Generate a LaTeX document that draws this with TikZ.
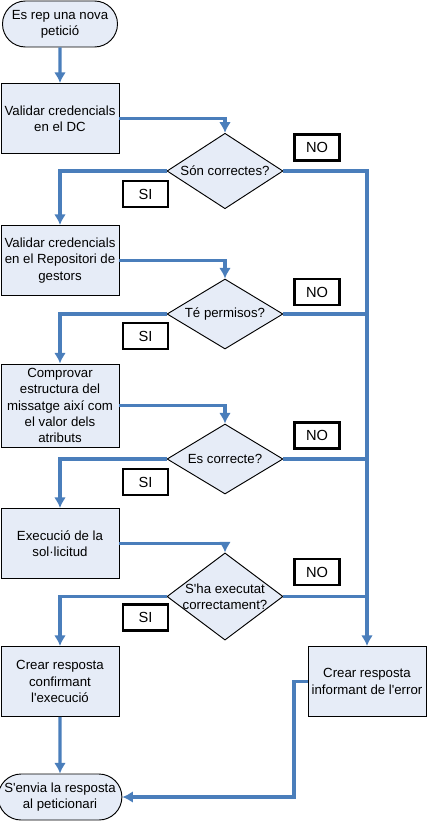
\documentclass[tikz,border=0pt]{standalone}
\usepackage{fontspec}
\setmainfont{Liberation Sans}
\usetikzlibrary{shapes.geometric,shapes.misc,arrows.meta}
\definecolor{flowblue}{RGB}{74,126,187}
\definecolor{boxfill}{RGB}{230,236,247}
\begin{document}
\begin{tikzpicture}[x=0.03cm,y=-0.03cm]
    \tikzset{txt/.style={font=\fontsize{11.3pt}{13.9pt}\selectfont, align=center},
      process/.style={txt, draw, fill=boxfill, line width=0.8pt, minimum width=3.54cm, minimum height=2.1cm, inner sep=1pt},
      terminal/.style={txt, draw, fill=boxfill, rounded rectangle, line width=0.8pt, minimum width=3.52cm, minimum height=1.38cm, inner sep=1pt},
      decision/.style={txt, draw, fill=boxfill, diamond, line width=0.8pt, minimum width=3.48cm, minimum height=2.1cm, inner sep=-5pt},
      answer/.style={draw, fill=white, line width=2.4pt, minimum width=1.35cm, minimum height=0.78cm, inner sep=0pt, font=\fontsize{12.5pt}{14pt}\selectfont},
      flow/.style={draw=flowblue, line width=2.6pt},
      tip/.style={-{Latex[length=9pt,width=10pt]}}}
    \useasboundingbox (0,0) rectangle (427,821);

    \node[terminal] at (60,24) (start) {Es rep una nova\\petició};
    \node[process] at (60,118.5) (cred_dc) {Validar credencials\\en el DC};
    \node[decision] at (225,171) (ok_dc) {Són correctes?};
    \node[process] at (60,260.5) (cred_rep) {Validar credencials\\en el Repositori de\\gestors};
    \node[decision] at (225,314) (ok_perm) {Té permisos?};
    \node[process, minimum height=2.49cm] at (60,405.5) (check) {Comprovar\\estructura del\\missatge així com\\el valor dels\\atributs};
    \node[decision] at (225,459) (ok_check) {Es correcte?};
    \node[process] at (60,543.5) (exec) {Execució de la\\sol·licitud};
    \node[decision] at (225,596.5) (ok_exec) {S\textquotesingle ha executat\\correctament?};
    \node[process] at (60,681.5) (resp_ok) {Crear resposta\\confirmant\\l\textquotesingle execució};
    \node[process] at (367,681.5) (resp_err) {Crear resposta\\informant de l\textquotesingle error};
    \node[terminal] at (60,797) (send) {S\textquotesingle envia la resposta\\al peticionari};

    \node[answer] at (317,147.5) (no_1) {NO};
    \node[answer] at (317,292) (no_2) {NO};
    \node[answer] at (317,435.5) (no_3) {NO};
    \node[answer] at (317,572) (no_4) {NO};
    \node[answer] at (145.5,194) (si_1) {SI};
    \node[answer] at (145.5,336) (si_2) {SI};
    \node[answer] at (145.5,482) (si_3) {SI};
    \node[answer] at (145.5,617.5) (si_4) {SI};

    \coordinate (back) at (294,797);

    \path[flow, tip] (start) -- (cred_dc);
    \path[flow, tip] (cred_dc.east) -| (ok_dc.north);
    \path[flow, tip] (ok_dc.west) -| (cred_rep.north);
    \path[flow, tip] (cred_rep.east) -| (ok_perm.north);
    \path[flow, tip] (ok_perm.west) -| (check.north);
    \path[flow, tip] (check.east) -| (ok_check.north);
    \path[flow, tip] (ok_check.west) -| (exec.north);
    \path[flow, tip] (exec.east) -| (ok_exec.north);
    \path[flow, tip] (ok_exec.west) -| (resp_ok.north);
    \path[flow, tip] (resp_ok) -- (send);
    \path[flow, tip] (ok_dc.east) -| (resp_err.north);
    \path[flow] (ok_perm.east) -- (ok_perm.east -| resp_err.north);
    \path[flow] (ok_check.east) -- (ok_check.east -| resp_err.north);
    \path[flow] (ok_exec.east) -- (ok_exec.east -| resp_err.north);
    \path[flow, tip] (resp_err.west) -| (back) -- (send.east);
\end{tikzpicture}
\end{document}
